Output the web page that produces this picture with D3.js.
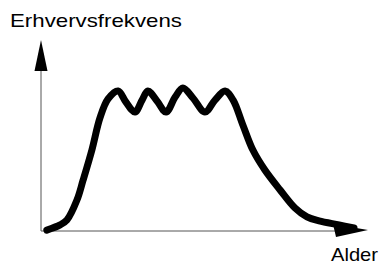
<!DOCTYPE html>
<html>
<head>
<meta charset="utf-8">
<script src="https://cdn.jsdelivr.net/npm/d3@7"></script>
<style>
  body { margin: 0; background: #fff; }
  svg { display: block; }
</style>
</head>
<body>
<div id="chart"></div>
<script>
// Schematic curve: x and y in 0-100 units
const ageX = [1.8, 5.9, 8.0, 11.1, 13.0, 15.7, 18.2, 20.7, 23.8, 26.2, 29.0, 31.2, 33.0, 35.8, 38.6,
  41.4, 43.8, 46.9, 50.6, 53.7, 56.8, 59.3, 62.3, 65.4, 69.1, 73.8, 78.4, 82.1, 85.8, 92.0, 96.6];
const rateY = [0.5, 3.2, 5.8, 16.3, 26.8, 42.6, 59.5, 69.5, 73.7, 67.9, 62.6, 68.9, 73.7, 68.4, 62.6,
  70.5, 75.3, 70.0, 62.6, 68.9, 73.7, 68.9, 55.8, 42.6, 32.1, 21.6, 12.1, 7.4, 5.3, 3.2, 1.6];
const yLabel = "Erhvervsfrekvens";
const xLabel = "Alder";

const width = 383, height = 264;

const svg = d3.select("#chart")
  .append("svg")
  .attr("width", width)
  .attr("height", height);

const x = d3.scaleLinear().domain([0, 100]).range([41, 365]);
const y = d3.scaleLinear().domain([0, 100]).range([231, 41]);

// axes
svg.append("line")
  .attr("x1", x(0)).attr("y1", y(0))
  .attr("x2", x(0)).attr("y2", 60)
  .attr("stroke", "#555").attr("stroke-width", 1);
svg.append("line")
  .attr("x1", x(0)).attr("y1", y(0))
  .attr("x2", 340).attr("y2", y(0))
  .attr("stroke", "#555").attr("stroke-width", 1);

// arrow heads
svg.append("path")
  .attr("d", `M${x(0)},40 L${x(0) - 6.5},71 L${x(0) + 6.5},71 Z`)
  .attr("fill", "#000");
svg.append("path")
  .attr("d", `M368,${y(0) - 1} L333,${y(0) - 7} L336,${y(0) + 6} Z`)
  .attr("fill", "#000");

// curve
const pts = ageX.map((d, i) => [d, rateY[i]]);
const line = d3.line()
  .x(d => x(d[0]))
  .y(d => y(d[1]))
  .curve(d3.curveCatmullRom.alpha(0.5));

svg.append("path")
  .datum(pts)
  .attr("d", line)
  .attr("fill", "none")
  .attr("stroke", "#000")
  .attr("stroke-width", 7)
  .attr("stroke-linecap", "round")
  .attr("stroke-linejoin", "round");

// labels
svg.append("text")
  .attr("x", 10).attr("y", 27)
  .attr("font-family", "Liberation Sans, Arial, sans-serif")
  .attr("font-size", 19)
  .attr("textLength", 172)
  .attr("lengthAdjust", "spacingAndGlyphs")
  .text(yLabel);

svg.append("text")
  .attr("x", 331).attr("y", 261)
  .attr("font-family", "Liberation Sans, Arial, sans-serif")
  .attr("font-size", 19)
  .attr("textLength", 47)
  .attr("lengthAdjust", "spacingAndGlyphs")
  .text(xLabel);
</script>
</body>
</html>
